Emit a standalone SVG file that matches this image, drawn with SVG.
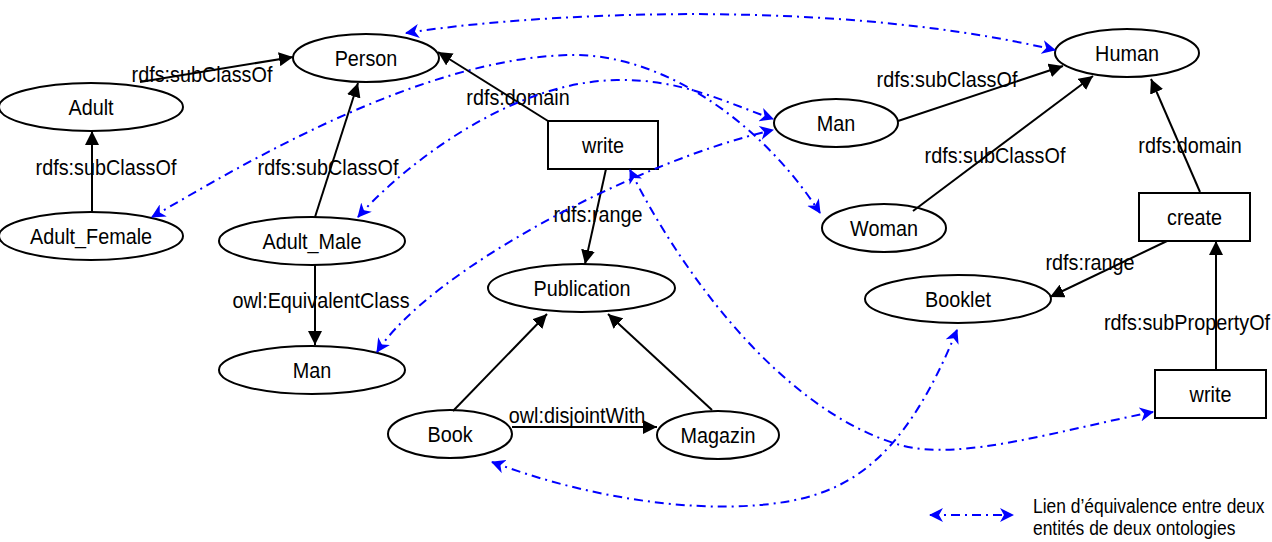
<svg xmlns="http://www.w3.org/2000/svg" width="1272" height="542" viewBox="0 0 1272 542">
  <defs>
    <!-- filled triangle for RDF/OWL relations -->
    <marker id="tri" markerUnits="userSpaceOnUse" markerWidth="14" markerHeight="14" refX="14" refY="7" orient="auto">
      <path d="M0,0 L14,7 L0,14 z" fill="#000"/>
    </marker>
    <!-- barbed head for equivalence links -->
    <marker id="barb" markerUnits="userSpaceOnUse" markerWidth="14" markerHeight="14" refX="13" refY="7" orient="auto-start-reverse">
      <path d="M0,0 L14,7 L0,14 L4,7 z" fill="#0000ff"/>
    </marker>
    <style>
      .node ellipse, .node rect { fill: #fff; stroke: #000; stroke-width: 2; }
      text { font-family: "Liberation Sans", Arial, sans-serif; font-size: 22.5px; fill: #000; text-anchor: middle; }
      .rel { fill: none; stroke: #000; stroke-width: 2; marker-end: url(#tri); }
      .eq { fill: none; stroke: #0000ff; stroke-width: 2; stroke-dasharray: 9 5 2 5; marker-start: url(#barb); marker-end: url(#barb); }
      .legend text { font-size: 21px; text-anchor: start; }
    </style>
  </defs>

  <rect width="1272" height="542" fill="#fff"/>

  <!-- first ontology -->
  <g id="person" class="node"><ellipse cx="366" cy="58" rx="73" ry="24"/><text transform="translate(366,66) scale(0.88,1)">Person</text></g>
  <g id="adult" class="node"><ellipse cx="91" cy="107" rx="92" ry="24"/><text transform="translate(91,115) scale(0.88,1)">Adult</text></g>
  <g id="adult-female" class="node"><ellipse cx="91" cy="236" rx="92" ry="24"/><text transform="translate(91,244) scale(0.88,1)">Adult_Female</text></g>
  <g id="adult-male" class="node"><ellipse cx="312" cy="241" rx="93" ry="24"/><text transform="translate(312,249) scale(0.88,1)">Adult_Male</text></g>
  <g id="man-1" class="node"><ellipse cx="312" cy="370" rx="93" ry="24"/><text transform="translate(312,378) scale(0.88,1)">Man</text></g>
  <g id="write-1" class="node"><rect x="548" y="121" width="110" height="48"/><text transform="translate(603,153) scale(0.88,1)">write</text></g>
  <g id="publication" class="node"><ellipse cx="581.5" cy="288" rx="93.5" ry="24"/><text transform="translate(582,296) scale(0.88,1)">Publication</text></g>
  <g id="book" class="node"><ellipse cx="450" cy="434" rx="62" ry="24"/><text transform="translate(450,442) scale(0.88,1)">Book</text></g>
  <g id="magazin" class="node"><ellipse cx="718" cy="435" rx="61" ry="24"/><text transform="translate(718,443) scale(0.88,1)">Magazin</text></g>

  <!-- second ontology -->
  <g id="human" class="node"><ellipse cx="1127" cy="53" rx="72" ry="24"/><text transform="translate(1127,61) scale(0.88,1)">Human</text></g>
  <g id="man-2" class="node"><ellipse cx="836" cy="123" rx="62" ry="24"/><text transform="translate(836,131) scale(0.88,1)">Man</text></g>
  <g id="woman" class="node"><ellipse cx="884" cy="228" rx="62" ry="24"/><text transform="translate(884,236) scale(0.88,1)">Woman</text></g>
  <g id="create" class="node"><rect x="1139" y="193" width="111" height="48"/><text transform="translate(1194.5,225) scale(0.88,1)">create</text></g>
  <g id="booklet" class="node"><ellipse cx="958" cy="299" rx="93" ry="24"/><text transform="translate(958,307) scale(0.88,1)">Booklet</text></g>
  <g id="write-2" class="node"><rect x="1155" y="370" width="111" height="48"/><text transform="translate(1210.5,402) scale(0.88,1)">write</text></g>

  <g id="connectors">
    <!-- relations inside each ontology -->
    <path class="rel" d="M92,212 L92,131"/>
    <path class="rel" d="M140,82 L293,57"/>
    <path class="rel" d="M315,217 L358,83"/>
    <path class="rel" d="M315,264 L315,345"/>
    <path class="rel" d="M548,121 L438,52"/>
    <path class="rel" d="M606,169 L585,264"/>
    <path class="rel" d="M453,411 L547,314"/>
    <path class="rel" d="M712,410 L608,314"/>
    <path class="rel" d="M512,427 L657,427"/>
    <path class="rel" d="M898,121 L1063,66"/>
    <path class="rel" d="M913,211 L1093,76"/>
    <path class="rel" d="M1200,192 L1151,79"/>
    <path class="rel" d="M1167,241 L1050,297"/>
    <path class="rel" d="M1216,370 L1216,241"/>

    <text transform="translate(106,175) scale(0.88,1)">rdfs:subClassOf</text>
    <text transform="translate(202,82) scale(0.88,1)">rdfs:subClassOf</text>
    <text transform="translate(328,175) scale(0.88,1)">rdfs:subClassOf</text>
    <text transform="translate(321,308) scale(0.88,1)">owl:EquivalentClass</text>
    <text transform="translate(518,105) scale(0.88,1)">rdfs:domain</text>
    <text transform="translate(598,222) scale(0.88,1)">rdfs:range</text>
    <text transform="translate(577,423) scale(0.88,1)">owl:disjointWith</text>
    <text transform="translate(947,87) scale(0.88,1)">rdfs:subClassOf</text>
    <text transform="translate(995,163) scale(0.88,1)">rdfs:subClassOf</text>
    <text transform="translate(1190,153) scale(0.88,1)">rdfs:domain</text>
    <text transform="translate(1090,270) scale(0.88,1)">rdfs:range</text>
    <text transform="translate(1187,330) scale(0.88,1)">rdfs:subPropertyOf</text>

    <!-- equivalence links between the two ontologies -->
    <path class="eq" d="M406,33 C520,15 820,-5 1055,50"/>
    <path class="eq" d="M152,217 C250,160 420,60 567,55 C660,52 760,120 820,213"/>
    <path class="eq" d="M358,217 C390,180 500,82 617,80 C680,79 720,100 773,119"/>
    <path class="eq" d="M377,352 C430,270 640,160 773,130"/>
    <path class="eq" d="M630,170 C680,270 780,410 900,445 C960,462 1060,430 1153,412"/>
    <path class="eq" d="M492,462 C580,495 680,512 760,505 C840,498 900,470 957,330"/>
  </g>

  <g id="legend" class="legend">
    <path class="eq" d="M930,515 L1013,515"/>
    <text transform="translate(1033,513) scale(0.83,1)">Lien d’équivalence entre deux</text>
    <text transform="translate(1033,535) scale(0.83,1)">entités de deux ontologies</text>
  </g>
</svg>
